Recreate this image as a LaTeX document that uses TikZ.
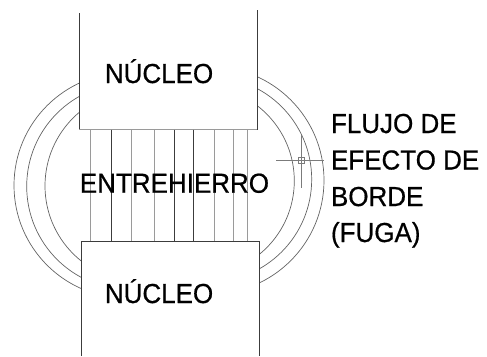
\documentclass[tikz,border=0pt]{standalone}
\usepackage{fontspec}
\setmainfont[FakeStretch=0.945,FakeBold=0.6]{Liberation Sans}
\definecolor{lightline}{HTML}{9A9A9A}
\definecolor{darkline}{HTML}{3C3C3C}
\tikzset{
  core/.style={draw=darkline,line width=0.8pt},
  flux/.style={draw=darkline!80,line width=0.7pt},
  label/.style={font=\fontsize{27.5pt}{30pt}\selectfont,inner sep=0pt,anchor=base west,text=black}
}
\begin{document}
\begin{tikzpicture}[x=1pt,y=-1pt]
\useasboundingbox (0,0) rectangle (487,356);

\scope % fringing flux, left side
\clip (0,0) -- (79,0) -- (79,185) -- (81,185) -- (81,356) -- (0,356) -- cycle;
\draw[flux] (126.75,185.4) circle[radius=112.75pt]
            (129.9,186.35) circle[radius=103.2pt]
            (141,185.85) circle[radius=96pt];
\endscope

\scope % fringing flux, right side
\clip (257.3,0) -- (487,0) -- (487,356) -- (259.5,356) -- (259.5,185) -- (257.3,185) -- cycle;
\draw[flux] (210.3,180.3) circle[radius=113.7pt]
            (209,179.3) circle[radius=102.7pt]
            (199.6,180.85) circle[radius=94.7pt];
\endscope

% cores
\draw[core] (79,13) -- (79,129.7) (257.3,10) -- (257.3,129.7);
\draw[draw=lightline,line width=0.8pt] (79,129.7) -- (257.3,129.7);
\draw[core] (81,356) -- (81,241) -- (259.5,241) -- (259.5,356);

% gap flux lines
\foreach \x/\c in {90.3/lightline,111/darkline,131.7/lightline,154.3/lightline,
                   174.3/darkline,193.7/darkline,214.3/lightline,233.3/lightline,247/lightline}
  \draw[draw=\c,line width=0.8pt] (\x,129.7) -- (\x,241);

% marker
\draw[draw=lightline!80!black,line width=0.7pt] (276,160) -- (323.5,160) (301,135) -- (301,188)
      (298,157) rectangle (304,163);

% texts
\node[label] (nucleo1) at (104.7,83) {NÚCLEO};
\node[label] (nucleo2) at (104.7,303) {NÚCLEO};
\node[label] (gap) at (79.7,192.7) {ENTREHIERRO};
\node[label] (fringe1) at (330.8,133) {FLUJO DE};
\node[label] (fringe2) at (330.8,169.5) {EFECTO DE};
\node[label] (fringe3) at (330.8,206) {BORDE};
\node[label] (fringe4) at (330.8,242) {(FUGA)};
\end{tikzpicture}
\end{document}
